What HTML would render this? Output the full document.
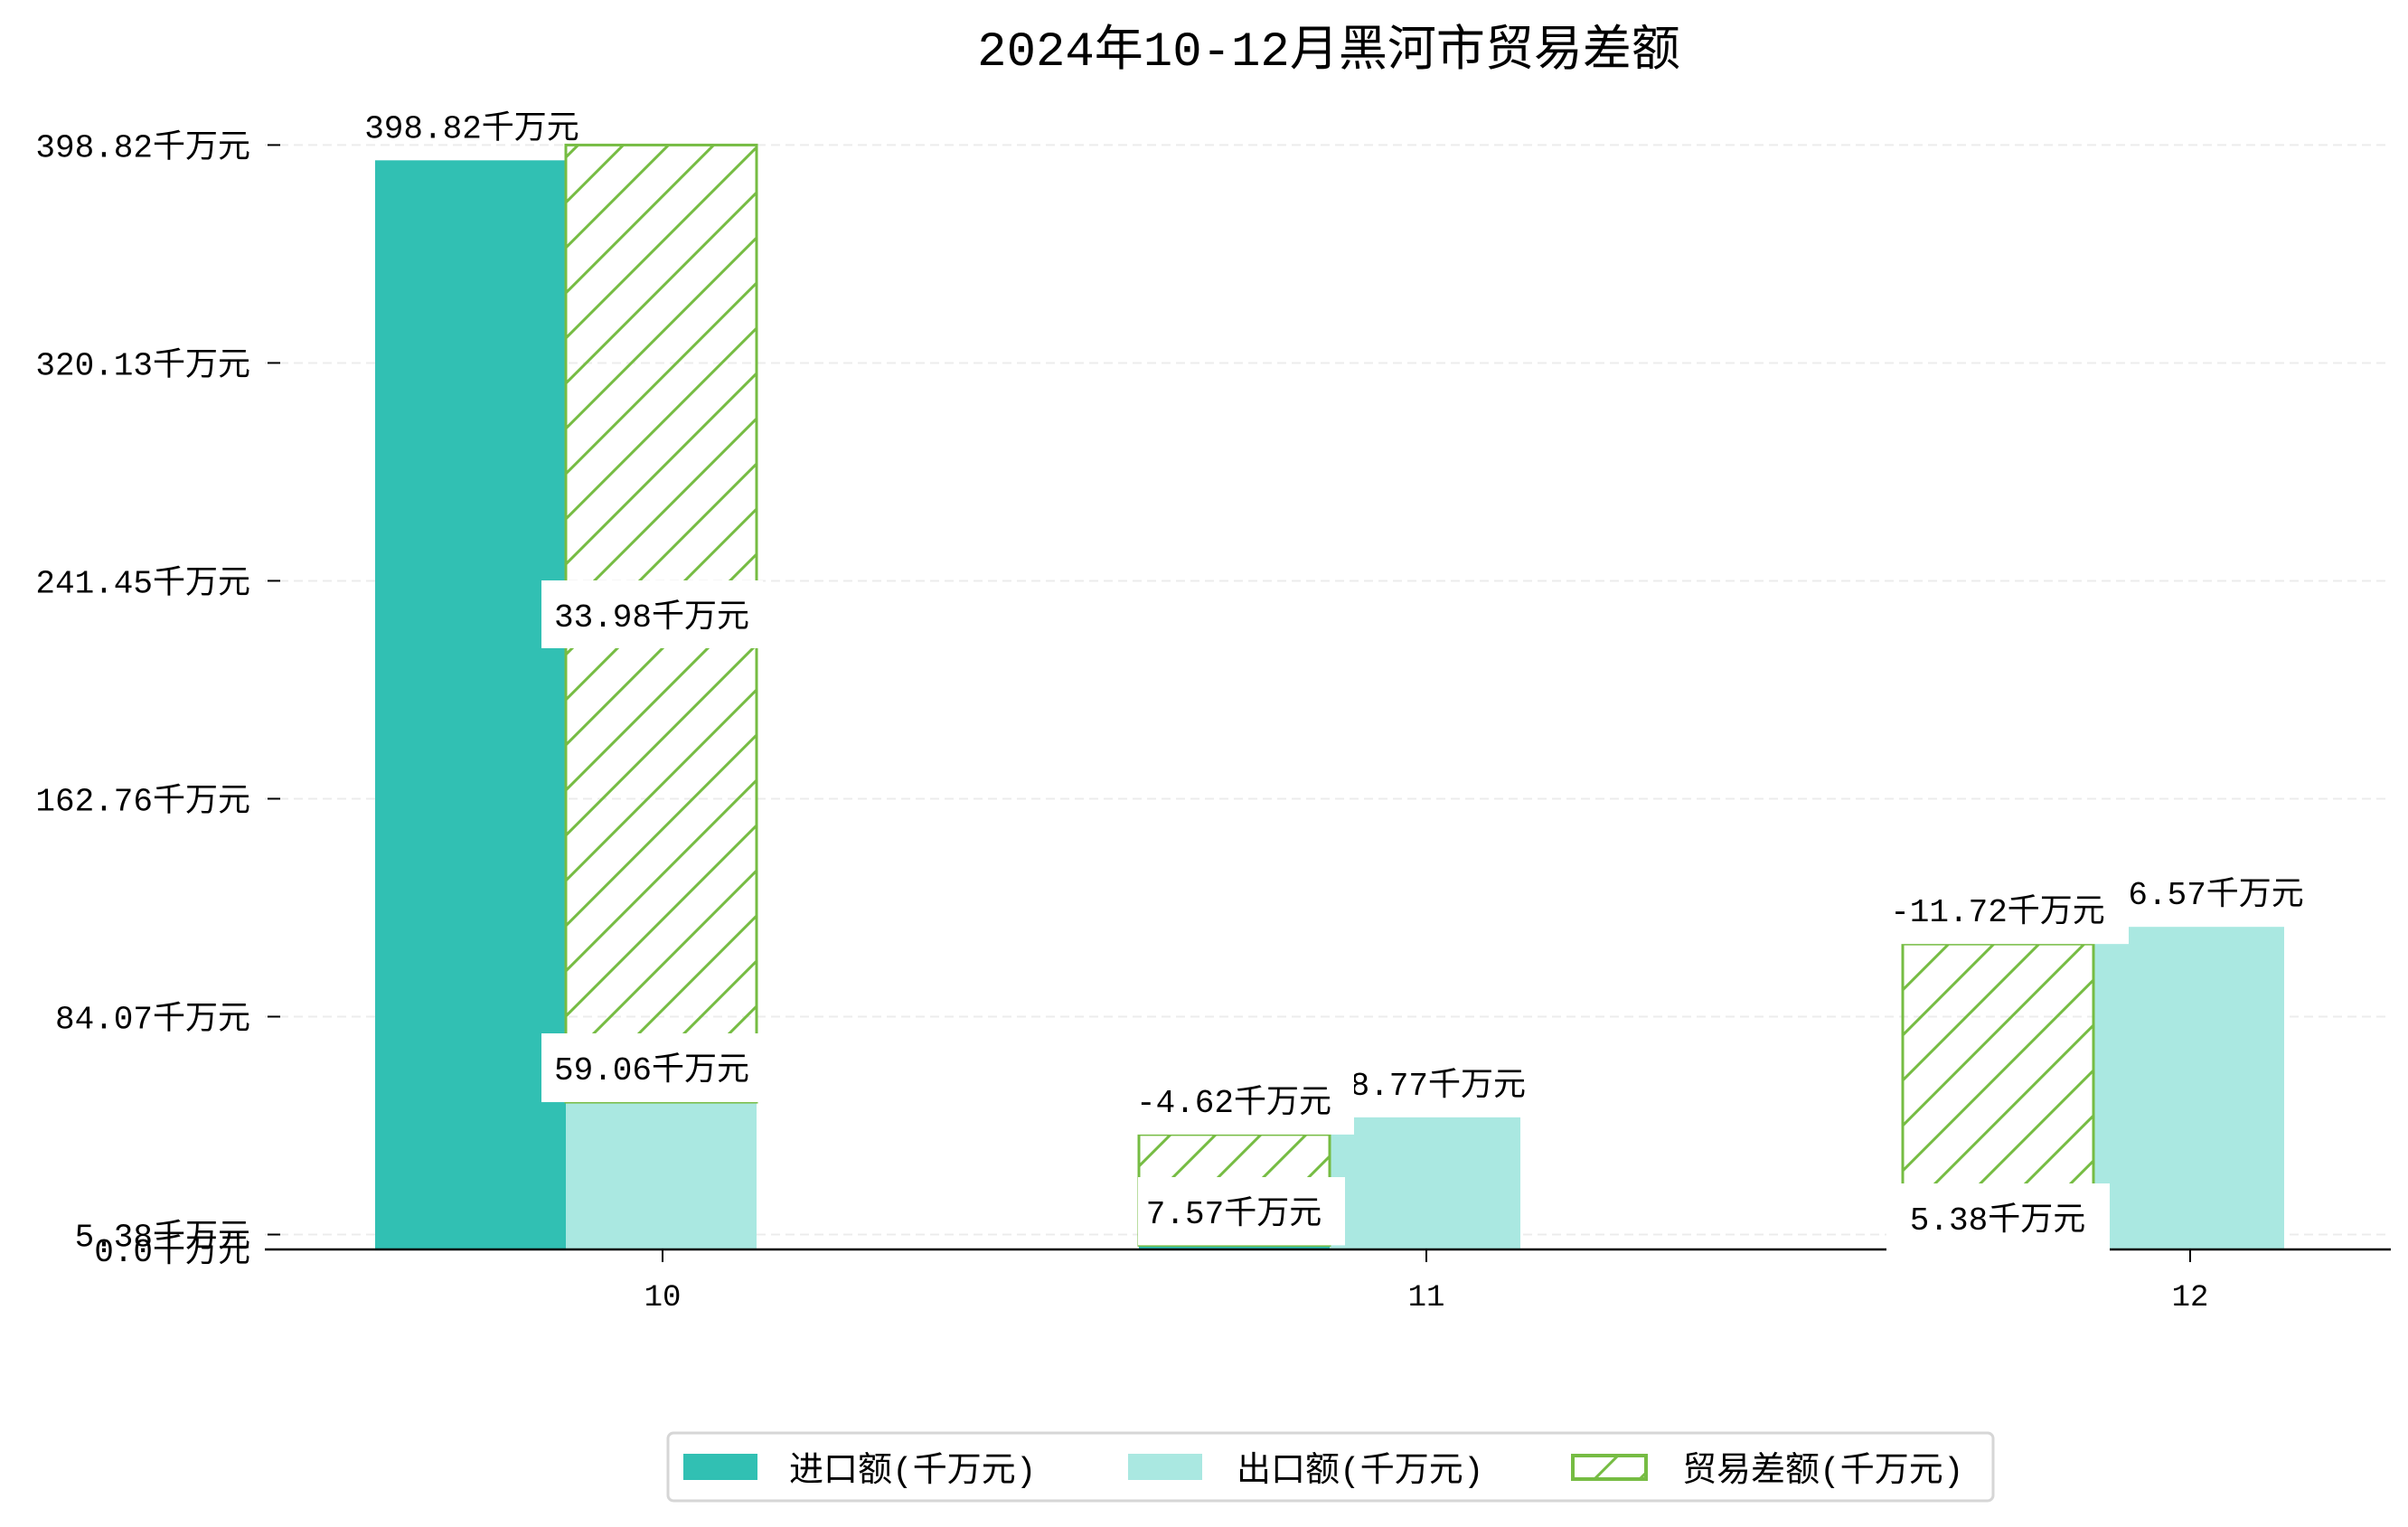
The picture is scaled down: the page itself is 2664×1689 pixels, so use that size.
<!DOCTYPE html>
<html><head><meta charset="utf-8">
<style>
html,body{margin:0;padding:0;background:#fff;}
svg{display:block;font-family:"Liberation Mono","Noto Sans CJK SC",monospace;}
</style></head>
<body>
<svg id="chart" width="2664" height="1689" viewBox="0 0 2664 1689" xmlns="http://www.w3.org/2000/svg">
<defs>
<pattern id="hatch" patternUnits="userSpaceOnUse" width="50" height="50">
<path d="M-10,10 L10,-10 M0,50 L50,0 M40,60 L60,40" stroke="#76bc43" stroke-width="3"/>
</pattern>
</defs>
<text x="1470" y="72" font-size="54" text-anchor="middle">2024年10-12月黑河市贸易差额</text>
<g id="grid"></g><g id="bars"></g><g id="labels"></g><g id="axes"></g>
<g>
<rect x="739" y="1585" width="1466" height="75" rx="6" fill="#fff" stroke="#d6d6d6" stroke-width="3"/>
<rect x="756" y="1608" width="82" height="29" fill="#31c0b3"/>
<text x="873" y="1638" font-size="38">进口额(千万元)</text>
<rect x="1248" y="1608" width="82" height="29" fill="#aae8e1"/>
<text x="1368" y="1638" font-size="38">出口额(千万元)</text>
<rect x="1740" y="1610" width="81" height="26" fill="url(#hatch)" stroke="#76bc43" stroke-width="4"/>
<text x="1861" y="1638" font-size="38">贸易差额(千万元)</text>
</g>
</svg>
<script>
const categories = ['10', '11', '12'];
const importValues = [393.3, 1.5, 0];
const exportValues = [53.2, 47.7, 116.5];
const balanceLow = [53.2, 1.5, 5.38];
const balanceHigh = [398.82, 41.5, 110.3];
const balanceSide = [1, 0, 0];
const yTicks = [0, 5.38, 84.07, 162.76, 241.45, 320.13, 398.82];
const yTickLabels = ['0.0千万元', '5.38千万元', '84.07千万元', '162.76千万元', '241.45千万元', '320.13千万元', '398.82千万元'];
const importLabels = ['398.82千万元', '7.57千万元', '5.38千万元'];
const exportLabels = ['59.06千万元', '48.77千万元', '116.57千万元'];
const balanceLabels = ['33.98千万元', '-4.62千万元', '-11.72千万元'];

const NS = 'http://www.w3.org/2000/svg';
const X0 = 293, X1 = 2645, Y0 = 1382, PXU = 3.063;
const y = v => Y0 - v * PXU;
const xc = i => 733 + i * 845;
const BW = 211;
function mk(tag, attrs, parent, txt) {
  const e = document.createElementNS(NS, tag);
  for (const k in attrs) e.setAttribute(k, attrs[k]);
  if (txt !== undefined) e.textContent = txt;
  parent.appendChild(e);
  return e;
}
const grid = document.getElementById('grid'), bars = document.getElementById('bars'),
      labels = document.getElementById('labels'), axes = document.getElementById('axes');

yTicks.forEach((t, i) => {
  if (i > 0) {
    const g = mk('line', {x1: X0, x2: X1, y1: y(t), y2: y(t), stroke: '#ececec', 'stroke-width': 2, 'stroke-dasharray': '10,6'}, grid);
    
    
  }
  const tk = mk('line', {x1: 296, x2: 310, y1: y(t), y2: y(t), stroke: '#000', 'stroke-width': 2}, axes);
  
  
  const tl = mk('text', {x: 277, y: y(t) + 13, 'font-size': 36, 'text-anchor': 'end'}, axes, yTickLabels[i]);
  
  
});

categories.forEach((c, i) => {
  const cx = xc(i);
  const ib = mk('rect', {x: cx - BW - 107, y: y(importValues[i]), width: BW, height: importValues[i] * PXU, fill: '#31c0b3'}, bars);
  
  
  const eb = mk('rect', {x: cx - 107, y: y(exportValues[i]), width: BW, height: exportValues[i] * PXU, fill: '#aae8e1'}, bars);
  
  
  const bx = balanceSide[i] ? cx - 107 : cx - BW - 107;
  const bb = mk('rect', {x: bx, y: y(balanceHigh[i]), width: BW, height: (balanceHigh[i] - balanceLow[i]) * PXU, fill: 'url(#hatch)', stroke: '#76bc43', 'stroke-width': 3}, bars);
  
  
  const tx = mk('text', {x: cx, y: 1444, 'font-size': 34, 'text-anchor': 'middle'}, axes, c);
  
  
  const tm = mk('line', {x1: cx, x2: cx, y1: Y0, y2: Y0 + 14, stroke: '#000', 'stroke-width': 2}, axes);
  
  
});

function label(txt, cx, cyText, box, name) {
  if (box) mk('rect', {x: box[0], y: box[1], width: box[2] - box[0], height: box[3] - box[1], fill: '#fff'}, labels);
  const t = mk('text', {x: cx, y: cyText + 13, 'font-size': 36, 'text-anchor': 'middle'}, labels, txt);
  
  
}
label(importLabels[0], 522, y(importValues[0]) - 38, [375, 106, 664, 156], 'value-label-import-10');
label(balanceLabels[0], 721, 680, [599, 642, 844, 717], 'value-label-balance-10');
label(exportLabels[0], 721, y(exportValues[0]) - 38, [599, 1143, 844, y(exportValues[0])], 'value-label-export-10');
label(exportLabels[1], 1580, y(exportValues[1]) - 38, null, 'value-label-export-11');
label(balanceLabels[1], 1365, y(balanceHigh[1]) - 38, [1245, 1180, 1498, y(balanceHigh[1])], 'value-label-balance-11');
label(importLabels[1], 1365, 1340, [1259, 1302, 1488, y(importValues[1])], 'value-label-import-11');
label(exportLabels[2], 2430, y(exportValues[2]) - 38, null, 'value-label-export-12');
label(balanceLabels[2], 2210, y(balanceHigh[2]) - 38, [2080, 968, 2355, y(balanceHigh[2])], 'value-label-balance-12');
label(importLabels[2], 2210, 1347, [2087, 1309, 2334, 1392], 'value-label-import-12');

const ax = mk('line', {x1: X0, x2: X1, y1: Y0, y2: Y0, stroke: '#000', 'stroke-width': 2.5}, axes);


const cover = mk('rect', {x: 2087, y: 1370, width: 247, height: 22, fill: '#fff'}, axes);


</script>
</body></html>
